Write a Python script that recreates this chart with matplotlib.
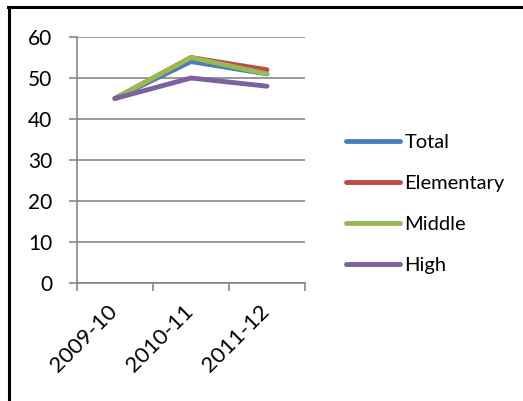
import matplotlib
matplotlib.use("Agg")
import matplotlib.pyplot as plt
import matplotlib.transforms as mtransforms
from matplotlib.lines import Line2D

plt.rcParams['font.family'] = ['Lato', 'DejaVu Sans']

years = ["2009-10", "2010-11", "2011-12"]
total = [45, 54, 51]
elementary = [45, 55, 52]
middle = [45, 55, 51]
high = [45, 50, 48]

series = [
    ("Total", total, "#4A7EBB"),
    ("Elementary", elementary, "#BE4B48"),
    ("Middle", middle, "#98B954"),
    ("High", high, "#7D60A0"),
]

grey = "#868686"

fig = plt.figure(figsize=(5.23, 4.01), dpi=100)
ax = fig.add_axes([77 / 523, 1 - 283 / 401, 228 / 523, 246 / 401])

x = list(range(len(years)))
for name, vals, col in series:
    ax.plot(x, vals, color=col, lw=3.5, solid_capstyle="round",
            solid_joinstyle="round", label=name)

ax.set_xlim(-0.5, len(years) - 0.5)
ax.set_ylim(0, 60)
ax.set_yticks(range(0, 61, 10))
ax.yaxis.grid(True, color=grey, lw=1.2)
ax.set_axisbelow(True)

ax.set_xticks([i - 0.5 for i in range(len(years) + 1)])
ax.set_xticklabels([])
ax.set_xticks(x, minor=True)
ax.set_xticklabels(years, minor=True, rotation=45, ha="right", va="top",
                   fontsize=16)
ax.tick_params(axis="x", which="minor", length=0, pad=13)
ax.tick_params(axis="x", which="major", length=5.8, width=1.2, color=grey)
ax.tick_params(axis="y", length=5.8, width=1.2, color=grey, labelsize=15,
               pad=12)

# nudge the slanted year labels a little to the right
shift = mtransforms.ScaledTranslation(6 / 100, 0, fig.dpi_scale_trans)
for lbl in ax.get_xticklabels(minor=True):
    lbl.set_transform(lbl.get_transform() + shift)

for side in ("top", "right"):
    ax.spines[side].set_visible(False)
for side in ("left", "bottom"):
    ax.spines[side].set_color(grey)
    ax.spines[side].set_linewidth(1.2)

handles = [Line2D([], [], color=c, lw=3.5, solid_capstyle="round")
           for _, _, c in series]
fig.legend(handles, [s[0] for s in series], loc="center left",
           bbox_to_anchor=(332 / 523, 1 - 204 / 401), frameon=False,
           fontsize=14.5, handlelength=2.7, handletextpad=0.2,
           labelspacing=1.2, borderpad=0.2)

# outer frame: only top and left edges
fig.add_artist(Line2D([8.5 / 523, 8.5 / 523], [0, 1 - 6.5 / 401],
                      transform=fig.transFigure, color="black", lw=2.2))
fig.add_artist(Line2D([7.5 / 523, 1], [1 - 6.5 / 401, 1 - 6.5 / 401],
                      transform=fig.transFigure, color="black", lw=2.2))

fig.savefig("out.png", dpi=100)
